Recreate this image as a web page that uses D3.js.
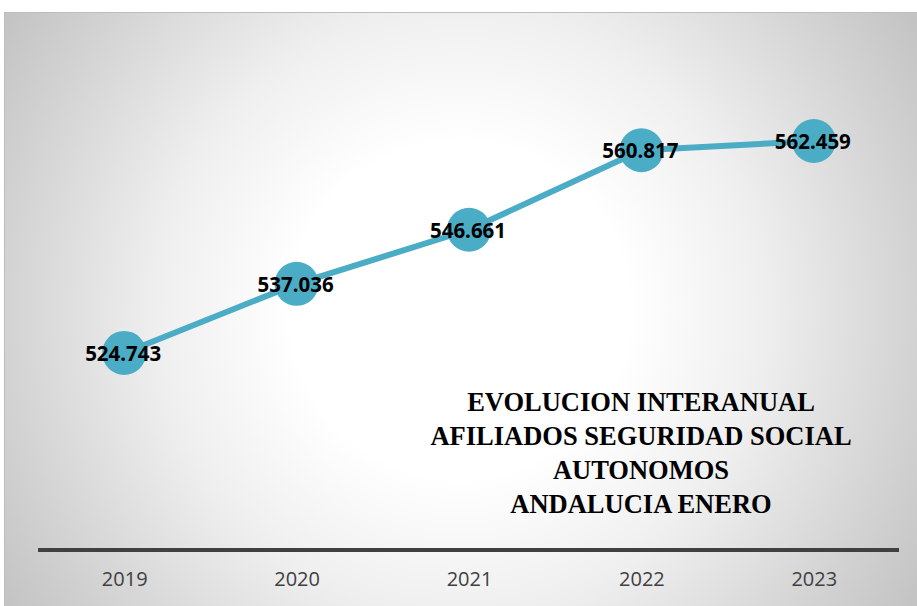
<!DOCTYPE html>
<html>
<head>
<meta charset="utf-8">
<script src="https://cdn.jsdelivr.net/npm/d3@7"></script>
<style>
  body { margin: 0; background: #fff; }
  svg { display: block; }
</style>
</head>
<body>
<div id="chart"></div>
<script>
var w = 917;
var h = 606;

// data
var years = ["2019", "2020", "2021", "2022", "2023"];
var afiliados = [524743, 537036, 546661, 560817, 562459];
var labels = ["524.743", "537.036", "546.661", "560.817", "562.459"];
var titleLines = ["EVOLUCION INTERANUAL", "AFILIADOS SEGURIDAD SOCIAL", "AUTONOMOS", "ANDALUCIA ENERO"];

var dataset = years.map(function (y, i) {
  return { year: y, value: afiliados[i], label: labels[i] };
});

var svg = d3.select("#chart")
  .append("svg")
  .attr("width", w)
  .attr("height", h);

// background gradient
var defs = svg.append("defs");
var grad = defs.append("radialGradient")
  .attr("id", "bg")
  .attr("gradientUnits", "userSpaceOnUse")
  .attr("cx", 460).attr("cy", 310).attr("r", 560);
[[0, "#ffffff"], [0.3, "#ffffff"], [0.54, "#efefef"], [0.81, "#d3d3d3"], [1, "#c0c0c0"]]
  .forEach(function (s) {
    grad.append("stop").attr("offset", s[0]).attr("stop-color", s[1]);
  });

svg.append("rect")
  .attr("x", 4.5).attr("y", 12.5)
  .attr("width", w).attr("height", h)
  .attr("fill", "url(#bg)")
  .attr("stroke", "#bdbdbd")
  .attr("stroke-width", 1);

// scales
var xScale = d3.scalePoint()
  .domain(years)
  .range([38, 900])
  .padding(0.5);

var yScale = d3.scaleLinear()
  .domain([500000, 570000])
  .range([492, 98.6]);

// x axis
var xAxis = d3.axisBottom(xScale).tickSize(0).tickPadding(22);
var gx = svg.append("g")
  .attr("class", "x axis")
  .attr("transform", "translate(0,550)")
  .call(xAxis);
gx.select(".domain")
  .attr("stroke", "#404040")
  .attr("stroke-width", 4)
  .attr("d", "M38,0H899");
gx.selectAll("text")
  .attr("font-family", "'Open Sans', sans-serif")
  .attr("font-size", "20px")
  .attr("fill", "#404040");

// line
var line = d3.line()
  .x(function (d) { return xScale(d.year); })
  .y(function (d) { return yScale(d.value); });

svg.append("path")
  .datum(dataset)
  .attr("d", line)
  .attr("fill", "none")
  .attr("stroke", "#4bacc6")
  .attr("stroke-width", 6)
  .attr("stroke-linecap", "round");

// circles
svg.selectAll("circle.pt")
  .data(dataset)
  .enter()
  .append("circle")
  .attr("class", "pt")
  .attr("cx", function (d) { return xScale(d.year); })
  .attr("cy", function (d) { return yScale(d.value); })
  .attr("r", 22)
  .attr("fill", "#4bacc6");

// value labels
svg.selectAll("text.val")
  .data(dataset)
  .enter()
  .append("text")
  .attr("class", "val")
  .attr("x", function (d) { return xScale(d.year) - 1; })
  .attr("y", function (d) { return yScale(d.value) + 8; })
  .attr("text-anchor", "middle")
  .attr("font-family", "'Noto Sans', sans-serif")
  .attr("font-weight", "bold")
  .attr("font-size", "20.5px")
  .attr("fill", "#000")
  .text(function (d) { return d.label; });

// title
svg.selectAll("text.title")
  .data(titleLines)
  .enter()
  .append("text")
  .attr("class", "title")
  .attr("x", 641)
  .attr("y", function (d, i) { return 411 + i * 34; })
  .attr("text-anchor", "middle")
  .attr("font-family", "'Liberation Serif', serif")
  .attr("font-weight", "bold")
  .attr("font-size", "26.5px")
  .attr("fill", "#000")
  .text(function (d) { return d; });
</script>
</body>
</html>
